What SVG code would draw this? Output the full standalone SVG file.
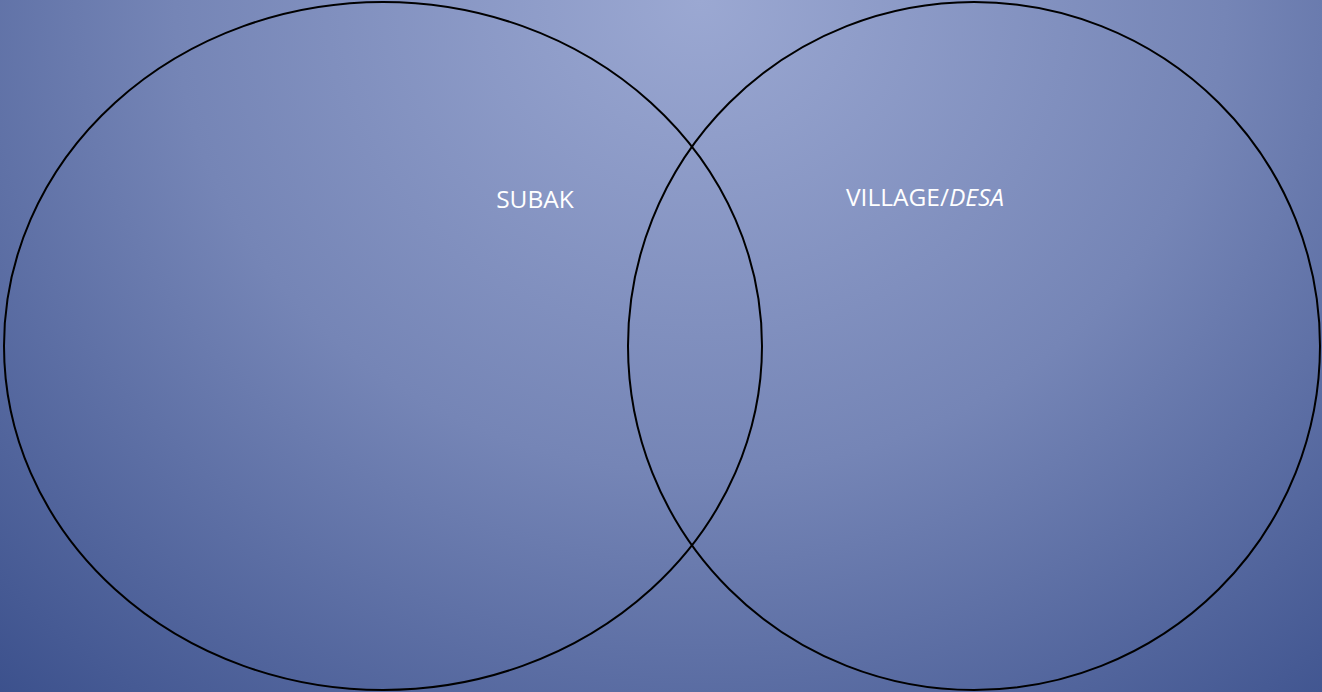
<svg xmlns="http://www.w3.org/2000/svg" width="1322" height="692" viewBox="0 0 1322 692">
<defs>
<radialGradient id="bg" gradientUnits="userSpaceOnUse" cx="700" cy="0" r="1050" fx="700" fy="0" gradientTransform="translate(700 0) scale(1 0.9) translate(-700 0)">
<stop offset="0" stop-color="#9ba8d2"/>
<stop offset="0.5" stop-color="#7585b6"/>
<stop offset="1" stop-color="#3b508c"/>
</radialGradient>
<style>
.ring{fill:none;stroke:#000;stroke-width:2}
.lbl{font-family:"Open Sans","Noto Sans","Liberation Sans",sans-serif;font-size:24.5px;fill:#fff}
</style>
</defs>
<rect x="0" y="0" width="1322" height="692" fill="url(#bg)"/>
<g id="subak">
<ellipse class="ring" cx="383" cy="346" rx="379" ry="344"/>
<text class="lbl" x="535" y="208" text-anchor="middle">SUBAK</text>
</g>
<g id="village">
<ellipse class="ring" cx="974" cy="346" rx="346" ry="344"/>
<text class="lbl" x="846" y="206">VILLAGE/<tspan font-style="italic">DESA</tspan></text>
</g>
<g id="connectors"/>
</svg>
